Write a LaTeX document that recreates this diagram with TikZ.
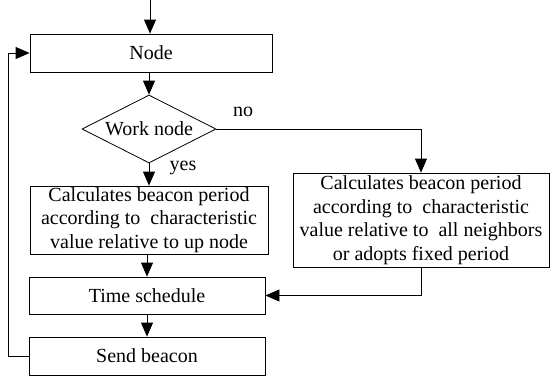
\documentclass[tikz,border=0pt]{standalone}
\usepackage{fontspec}
\setmainfont{Liberation Serif}
\usetikzlibrary{shapes.geometric,arrows.meta}
\begin{document}
\begin{tikzpicture}[x=1pt,y=-1pt,
  box/.style={draw, line width=0.8pt, inner sep=0pt, align=center,
    font=\fontsize{20}{23.5}\selectfont},
  dia/.style={draw, line width=0.8pt, diamond, aspect=2, inner sep=0pt,
    minimum width=134pt, minimum height=68pt, font=\fontsize{20}{23.5}\selectfont},
  lbl/.style={font=\fontsize{20}{23.5}\selectfont, inner sep=0pt},
  conn/.style={line width=0.8pt, -{Triangle[length=14pt,width=12pt]}},
  plain/.style={line width=0.8pt}]
\useasboundingbox (0,0) rectangle (550,376);

\node[box, minimum width=242pt, minimum height=38pt] (n) at (151,53) {Node};
\node[dia] (w) at (149,129) {Work node};
\node[box, minimum width=238pt, minimum height=68pt] (c1) at (149,220)
  {Calculates beacon period\\according to~ characteristic\\value relative to up node};
\node[box, minimum width=256pt, minimum height=94pt] (c2) at (421,220)
  {Calculates beacon period\\according to~ characteristic\\value relative to~ all neighbors\\or adopts fixed period};
\node[box, minimum width=236pt, minimum height=37pt] (ts) at (147,295.5) {Time schedule};
\node[box, minimum width=236pt, minimum height=38pt] (sb) at (147,356) {Send beacon};

\node[lbl] (no) at (243,112) {no};
\node[lbl] (yes) at (183,168) {yes};

\coordinate (start) at (150,0);
\coordinate (loop) at (8,356);

\draw[conn] (start) -- (n.north -| start);
\draw[conn] (n.south -| w.north) -- (w.north);
\draw[conn] (w.east) -| (c2.north);
\draw[conn] (w.south) -- (c1.north -| w.south);
\draw[conn] (c1.south -| ts.north) -- (ts.north);
\draw[conn] (ts.south) -- (sb.north);
\draw[conn] (c2.south) |- (ts.east);
\draw[conn] (sb.west) -- (loop) |- (n.west);
\end{tikzpicture}
\end{document}
